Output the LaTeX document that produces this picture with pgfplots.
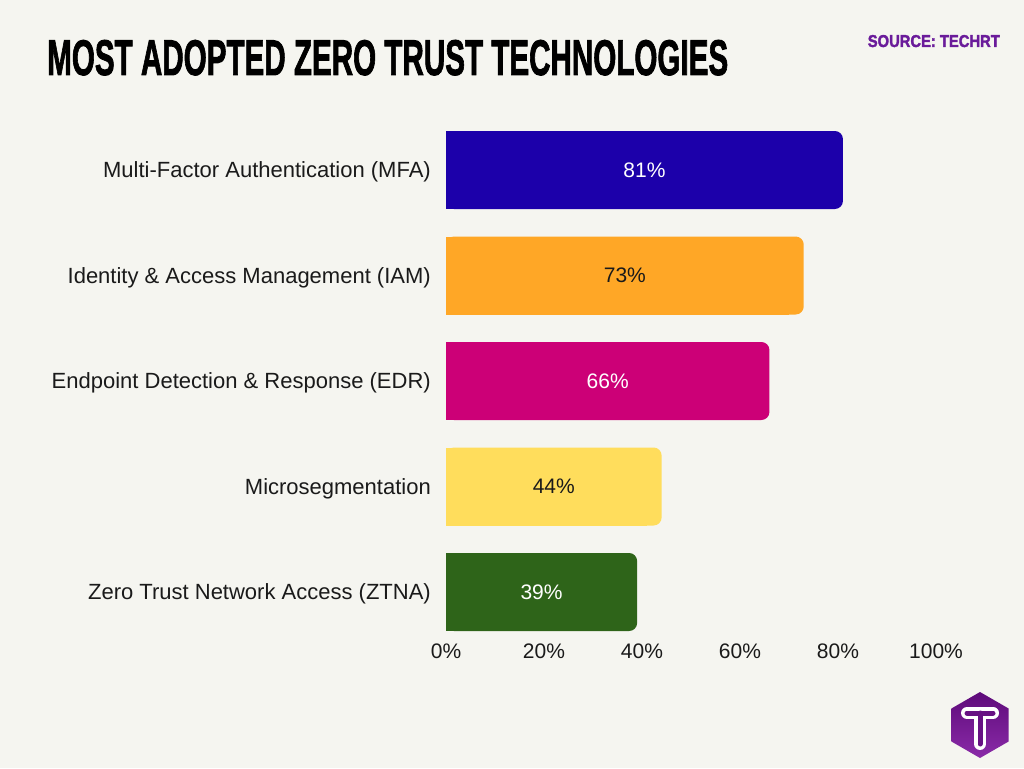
\documentclass[border=0pt]{standalone}
\usepackage{pgfplots}
\pgfplotsset{compat=1.18}
\usepackage{pgfplotstable}
\usepackage{graphicx}
\usepackage{fontspec}
\setmainfont{Liberation Sans}
\newfontfamily\titlefont{Liberation Sans}[FakeBold=2]

\definecolor{bgc}{HTML}{F5F5F0}
\definecolor{txt}{HTML}{1A1A1A}
\definecolor{srcc}{HTML}{6A1B9A}
\definecolor{cA}{HTML}{1C00AA}
\definecolor{cB}{HTML}{FFA726}
\definecolor{cC}{HTML}{CC0077}
\definecolor{cD}{HTML}{FFDD5C}
\definecolor{cE}{HTML}{2E6419}
\definecolor{logoA}{HTML}{5E0A7A}
\definecolor{logoB}{HTML}{8A2BA8}

\pgfplotstableread{
cat val
0 81
1 73
2 66
3 44
4 39
}\data

\newcommand{\onebar}[3]{%
  \addplot[xbar, bar shift=0pt, bar width=78pt, draw=none, fill=#2, rounded corners=8pt, restrict y to domain=#1:#1, forget plot]
    table[x=val, y=cat]\data;
  \addplot[xbar, bar shift=0pt, bar width=78pt, draw=none, fill=#2, restrict y to domain=#1:#1, forget plot]
    table[x expr=\thisrow{val}-3, y=cat]\data;
  \addplot[draw=none, mark=none, restrict y to domain=#1:#1, point meta=explicit symbolic,
    nodes near coords={\pgfplotspointmeta\%},
    nodes near coords style={anchor=center, text=#3, font=\fontsize{21}{24}\selectfont, inner sep=0pt}, forget plot]
    table[x expr=\thisrow{val}/2, y=cat, meta=val]\data;
}

\begin{document}
\begin{tikzpicture}
\fill[bgc] (0,0) rectangle (1024pt,768pt);
\node[anchor=base west, inner sep=0pt, text=black] at (47pt,693pt)
  {\resizebox{681pt}{35pt}{\titlefont\bfseries MOST ADOPTED ZERO TRUST TECHNOLOGIES}};
\node[anchor=base east, inner sep=0pt, text=srcc] at (1000pt,721pt)
  {\resizebox{132pt}{12pt}{\titlefont\bfseries SOURCE: TECHRT}};

\begin{axis}[
  at={(446pt,123.25pt)}, anchor=south west,
  scale only axis, width=490pt, height=527.5pt,
  xmin=0, xmax=100, ymin=-0.5, ymax=4.5, y dir=reverse,
  axis line style={draw=none},
  major tick length=0pt,
  xtick={0,20,40,60,80,100},
  xticklabels={0\%,20\%,40\%,60\%,80\%,100\%},
  ytick={0,1,2,3,4},
  yticklabels={Multi-Factor Authentication (MFA),Identity \& Access Management (IAM),Endpoint Detection \& Response (EDR),Microsegmentation,Zero Trust Network Access (ZTNA)},
  xticklabel style={font=\fontsize{21}{24}\selectfont, text=txt, inner sep=0pt, anchor=north, yshift=1pt},
  yticklabel style={font=\fontsize{22}{26}\selectfont, text=txt, inner sep=0pt, anchor=east, xshift=-15pt, yshift=-2pt},
  clip=false,
]
\onebar{0}{cA}{white}
\onebar{1}{cB}{txt}
\onebar{2}{cC}{white}
\onebar{3}{cD}{txt}
\onebar{4}{cE}{white}
\end{axis}

% logo
\shade[top color=logoA, bottom color=logoB]
  (980pt,76pt) -- (1008.6pt,59.5pt) -- (1008.6pt,26.5pt) -- (980pt,10pt) -- (951.4pt,26.5pt) -- (951.4pt,59.5pt) -- cycle;
\draw[white, line width=12pt, line cap=round] (967pt,55pt) -- (993pt,55pt) (980pt,55pt) -- (980pt,24pt);
\draw[logoA!80!logoB, line width=5pt, line cap=round] (967pt,55pt) -- (993pt,55pt) (980pt,55pt) -- (980pt,24pt);

\pgfresetboundingbox
\useasboundingbox (0,0) rectangle (1024pt,768pt);
\end{tikzpicture}
\end{document}
